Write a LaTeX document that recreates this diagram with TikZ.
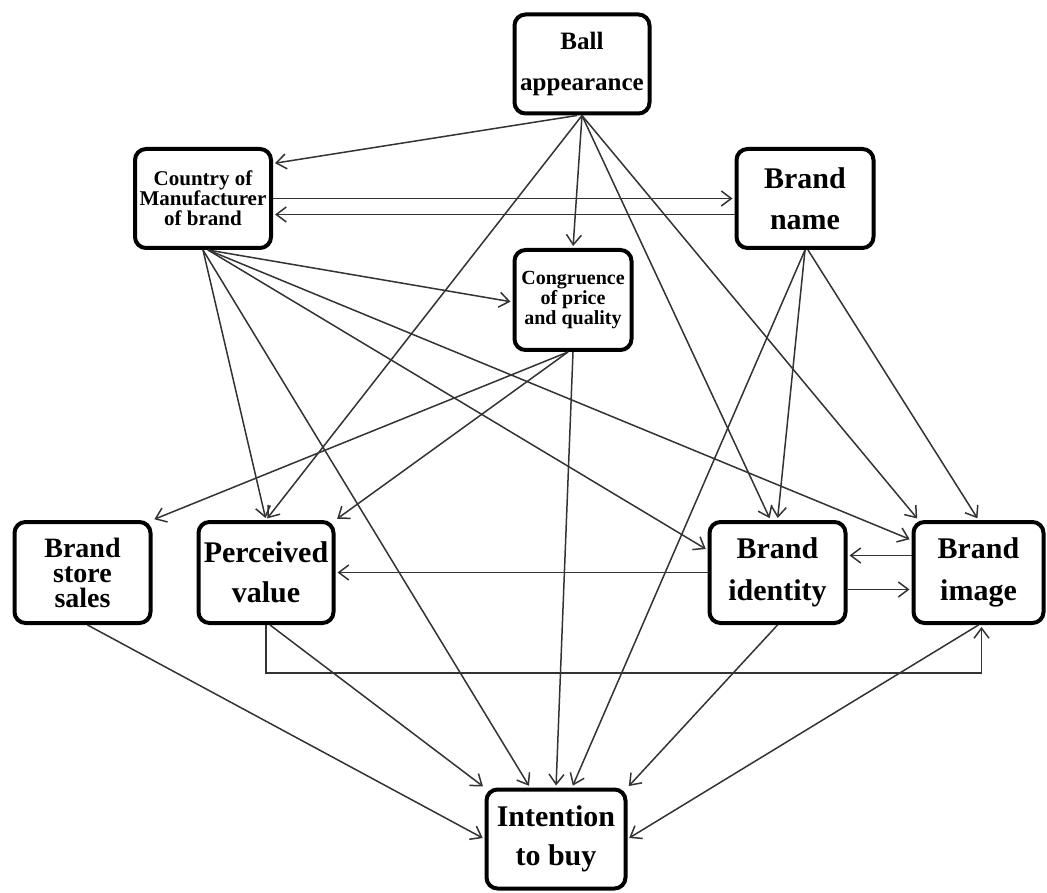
\documentclass[tikz,border=0pt]{standalone}
\usepackage{fontspec}
\setmainfont{Liberation Serif}
\usetikzlibrary{arrows.meta}
\begin{document}
\begin{tikzpicture}[x=1pt,y=-1pt,
 box/.style={draw=black, line width=4pt, rounded corners=11pt, fill=white, align=center, inner sep=0pt},
 conn/.style={draw=black!80, line width=1.5pt, shorten >=2pt, -{Straight Barb[length=10pt,width=15pt,line width=1.5pt]}},
]
\useasboundingbox (0,0) rectangle (1047,893);
\node[box, minimum width=135, minimum height=99, font=\bfseries\fontsize{25}{41}\selectfont] (ball) at (582,64) {Ball\\appearance};
\node[box, minimum width=136, minimum height=99, font=\bfseries\fontsize{21}{20}\selectfont] (country) at (203,198.5) {Country of\\Manufacturer\\of brand};
\node[box, minimum width=137, minimum height=99, font=\bfseries\fontsize{30}{41}\selectfont] (name) at (805,198.5) {Brand\\name};
\node[box, minimum width=117, minimum height=100, font=\bfseries\fontsize{20}{20}\selectfont] (cong) at (573,300) {Congruence\\of price\\and quality};
\node[box, minimum width=136, minimum height=101, font=\bfseries\fontsize{28}{25}\selectfont] (bss) at (82.5,572.5) {Brand\\store\\sales};
\node[box, minimum width=135, minimum height=101, font=\bfseries\fontsize{30}{40}\selectfont] (pv) at (266,572.5) {Perceived\\value};
\node[box, minimum width=136, minimum height=101, font=\bfseries\fontsize{30}{42}\selectfont] (bi) at (777.5,572.5) {Brand\\identity};
\node[box, minimum width=130, minimum height=101, font=\bfseries\fontsize{30}{42}\selectfont] (bim) at (978.5,572.5) {Brand\\image};
\node[box, minimum width=139, minimum height=99, font=\bfseries\fontsize{30}{39}\selectfont] (int) at (556,839) {Intention\\to buy};
\coordinate (elbow) at (0,673);
% from Ball appearance
\draw[conn] ([xshift=-5]ball.south) -- ([yshift=35]country.east);
\draw[conn] (ball.south) -- (pv.north);
\draw[conn] (ball.south) -- (cong.north);
\draw[conn] (ball.south) -- ([xshift=-7]bi.north);
\draw[conn] (ball.south) -- ([xshift=-60]bim.north);
% from Country
\draw[conn] (country.east) -- (name.west);
\draw[conn] ([yshift=-16]name.west) -- ([yshift=-16]country.east);
\draw[conn] ([xshift=5]country.south) -- ([yshift=-2]cong.west);
\draw[conn] (country.south) -- (pv.north);
\draw[conn] (country.south) -- ([xshift=-26]int.north);
\draw[conn] ([xshift=5]country.south) -- ([yshift=-30]bi.north west);
\draw[conn] ([xshift=5]country.south) -- ([yshift=-20]bim.north west);
% from Congruence
\draw[conn] ([xshift=-5]cong.south) -- (bss.north east);
\draw[conn] ([xshift=-5]cong.south) -- (pv.north east);
\draw[conn] (cong.south) -- (int.north);
% from Brand name
\draw[conn] (name.south) -- ([xshift=16]int.north);
\draw[conn] (name.south) -- (bi.north);
\draw[conn] ([xshift=3]name.south) -- (bim.north);
% identity / image
\draw[conn] ([yshift=17]bim.west) -- ([yshift=17]bi.east);
\draw[conn] ([yshift=-17]bi.east) -- ([yshift=-17]bim.west);
\draw[conn] (bi.west) -- (pv.east);
% lower part
\draw[conn] (pv.south) -- (pv.south |- elbow) -| ([xshift=3]bim.south);
\draw[conn] ([xshift=4]pv.south) -- (int.north west);
\draw[conn] ([xshift=5]bss.south) -- (int.west);
\draw[conn] (bi.south) -- (int.north east);
\draw[conn] (bim.south) -- (int.east);
\end{tikzpicture}
\end{document}
